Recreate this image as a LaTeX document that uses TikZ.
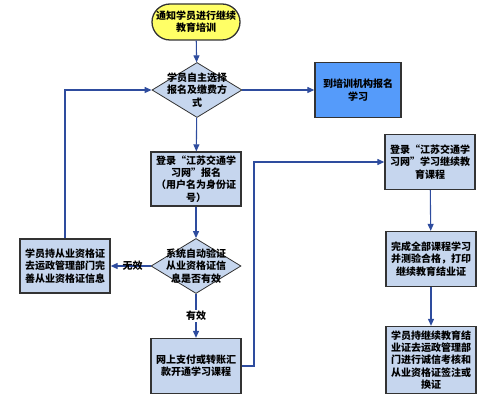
\documentclass[tikz,border=0pt]{standalone}
\usepackage{fontspec}
\newfontfamily\cjk{Noto Sans CJK SC}
\usepackage{tikz}
\usetikzlibrary{arrows.meta,positioning,shapes.geometric}
\definecolor{flowline}{HTML}{2E4C9E}
\definecolor{boxfill}{HTML}{C6D6EE}
\definecolor{darkfill}{HTML}{559BFA}
\definecolor{startfill}{HTML}{FFFF66}
\tikzset{
  box/.style={rectangle,draw=black!80,line width=1.3pt,fill=boxfill,
    minimum width=90pt,minimum height=55pt,inner sep=2pt,
    align=center,text width=84pt},
  darkbox/.style={box,fill=darkfill,minimum width=86pt,text width=80pt},
  start/.style={rectangle,rounded corners=18pt,draw=black!80,line width=1.3pt,
    fill=startfill,minimum width=88pt,minimum height=36pt,inner sep=1pt,
    align=center},
  decision/.style={diamond,draw=black!80,line width=0.8pt,fill=boxfill,
    minimum width=90pt,minimum height=55pt,inner sep=0pt},
  inner/.style={align=center},
  every node/.style={font=\cjk\bfseries\fontsize{10}{12.3}\selectfont}
}
\tikzstyle{arrow} = [line width=1.1pt,draw=flowline,-{Triangle[length=7pt,width=6pt]}]

\begin{document}
\begin{tikzpicture}[x=1pt,y=-1pt]
  \useasboundingbox (0,0) rectangle (500,403);
  \node[start] (notice) at (196,22) {通知学员进行继续\\教育培训};
  \node[decision,label={[inner]center:学员自主选择\\报名及缴费方\\式}] (choose) at (197,90) {};
  \node[darkbox] (agency) at (358,90) {到培训机构报名\\学习};
  \node[box,minimum height=54pt] (register) at (196,179) {登录“江苏交通学\\习网”报名\\（用户名为身份证\\号）};
  \node[decision,label={[inner]center:系统自动验证\\从业资格证信\\息是否有效}] (verify) at (196,266) {};
  \node[box,minimum height=54pt] (improve) at (65,266) {学员持从业资格证\\去运政管理部门完\\善从业资格证信息};
  \node[box] (pay) at (196,366) {网上支付或转账汇\\款开通学习课程};
  \node[box] (login) at (430,162) {登录“江苏交通学\\习网”学习继续教\\育课程};
  \node[box] (finish) at (431,259) {完成全部课程学习\\并测验合格，打印\\继续教育结业证};
  \node[box,minimum height=67pt] (renew) at (431,360) {学员持继续教育结\\业证去运政管理部\\门进行诚信考核和\\从业资格证签注或\\换证};
  \coordinate (bend) at (254,366);

  \draw[arrow] (notice) -- (choose);
  \draw[arrow] (choose) -- (agency);
  \draw[arrow] (choose) -- (register);
  \draw[arrow] (register) -- (verify);
  \draw[arrow] (verify) -- node[pos=0.45]{无效} (improve);
  \draw[arrow] (verify) -- node[fill=white,inner sep=1pt]{有效} (pay);
  \draw[arrow] (improve.north) |- (choose.west);
  \draw[arrow] (pay.east) -- (bend) |- (login.west);
  \draw[arrow] (login) -- (finish);
  \draw[arrow] (finish) -- (renew);
\end{tikzpicture}
\end{document}
